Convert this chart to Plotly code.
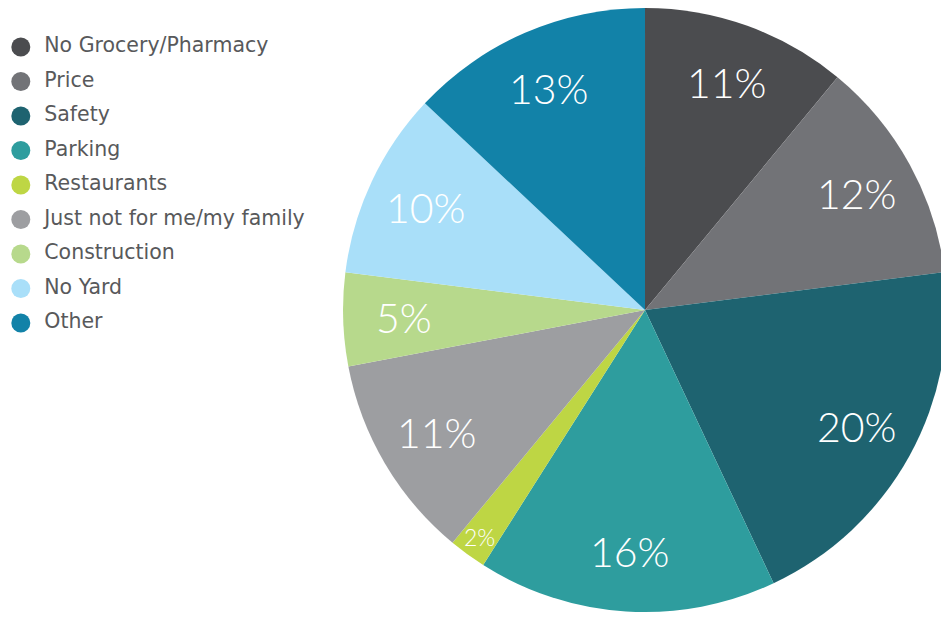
import math
import plotly.graph_objects as go

labels = ["No Grocery/Pharmacy", "Price", "Safety", "Parking", "Restaurants",
          "Just not for me/my family", "Construction", "No Yard", "Other"]
values = [11, 12, 20, 16, 2, 11, 5, 10, 13]
colors = ["#4b4c4f", "#727377", "#1e6370", "#2e9d9e", "#bed644",
          "#9d9ea1", "#b7d98c", "#a9dff9", "#1282a8"]

W, H = 949, 620
pie_x = [0.353, 0.9895]
pie_y = [0.0258, 1.0]

fig = go.Figure()

fig.add_trace(go.Pie(
    labels=labels,
    values=values,
    sort=False,
    direction="clockwise",
    rotation=0,
    marker=dict(colors=colors, line=dict(width=0)),
    textinfo="none",
    domain=dict(x=pie_x, y=pie_y),
    showlegend=False,
    hoverinfo="label+percent",
))

# slice labels, placed at the middle angle of each slice
radius = min((pie_x[1] - pie_x[0]) * W, (pie_y[1] - pie_y[0]) * H) / 2
cx = (pie_x[0] + pie_x[1]) / 2
cy = (pie_y[0] + pie_y[1]) / 2
total = sum(values)
cum = 0
for v in values:
    mid = (cum + v / 2) / total * 2 * math.pi
    cum += v
    small = v < 3
    r = radius * (0.93 if small else 0.8)
    fig.add_annotation(
        x=cx + r * math.sin(mid) / W,
        y=cy + r * math.cos(mid) / H,
        xref="paper", yref="paper",
        xanchor="center", yanchor="middle",
        text=f"{v}%", showarrow=False,
        font=dict(family="Lato", size=23 if small else 41, color="white", weight=300),
    )

# legend drawn as a column of circle markers
fig.add_trace(go.Scatter(
    x=[0.045] * len(labels), y=labels,
    mode="markers+text",
    marker=dict(symbol="circle", size=19, color=colors),
    text=[" \u2009" + s for s in labels],
    textposition="middle right",
    textfont=dict(family="DejaVu Sans", size=20.5, color="#58595b"),
    cliponaxis=False,
    hoverinfo="skip",
    showlegend=False,
))

fig.update_layout(
    width=W, height=H,
    margin=dict(l=0, r=0, t=0, b=0),
    paper_bgcolor="white",
    plot_bgcolor="white",
    xaxis=dict(visible=False, range=[0, 1], domain=[0, 0.3], fixedrange=True),
    yaxis=dict(visible=False, type="category", range=[8.5, -0.5],
               domain=[0.4641, 0.9649], fixedrange=True),
)

fig.write_html("out.html")
